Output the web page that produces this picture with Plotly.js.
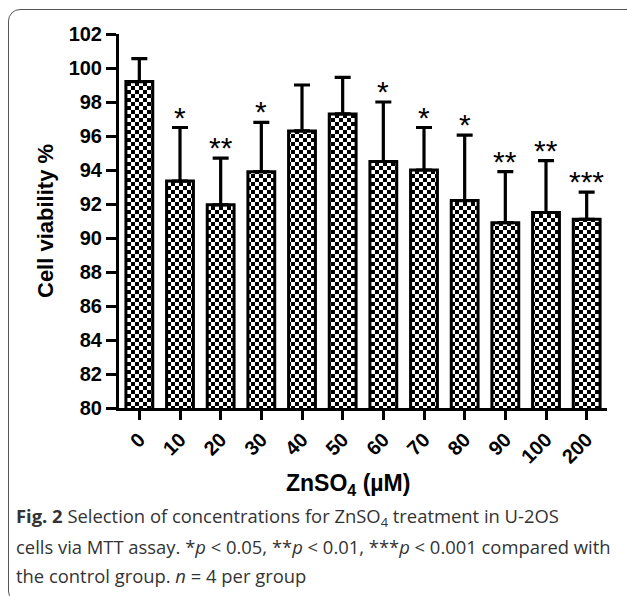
<!DOCTYPE html>
<html>
<head>
<meta charset="utf-8">
<script src="https://cdn.plot.ly/plotly-3.0.1.min.js"></script>
<style>
  html, body { margin: 0; padding: 0; background: #fff; }
  #wrap { position: relative; width: 627px; height: 596px; overflow: hidden; }
  #chart { position: absolute; left: 0; top: 0; width: 627px; height: 596px; }
  #frame { position: absolute; left: 8px; top: 9px; width: 700px; height: 592px;
           border: 1.5px solid #555; border-radius: 12px; pointer-events: none; }
</style>
</head>
<body>
<div id="wrap"><div id="chart"></div><div id="frame"></div></div>
<script>
const categories = ['0', '10', '20', '30', '40', '50', '60', '70', '80', '90', '100', '200'];
const viability = [99.2, 93.35, 91.95, 93.9, 96.3, 97.3, 94.5, 94.0, 92.2, 90.9, 91.5, 91.1];
const errorUpper = [1.35, 3.15, 2.75, 2.9, 2.7, 2.15, 3.5, 2.5, 3.85, 3.0, 3.05, 1.6];
const significance = ['', '*', '**', '*', '', '', '*', '*', '*', '**', '**', '***'];
const yTickValues = [80, 82, 84, 86, 88, 90, 92, 94, 96, 98, 100, 102];
const captionLines = [
  '<b>Fig. 2</b> Selection of concentrations for ZnSO<sub>4</sub> treatment in U-2OS',
  'cells via MTT assay. *<i>p</i> < 0.05, **<i>p</i> < 0.01, ***<i>p</i> < 0.001 compared with',
  'the control group. <i>n</i> = 4 per group'
];

const AR = 'Arial, "Liberation Sans", sans-serif';
const CAP = '"Open Sans", "Noto Sans", sans-serif';

const trace = {
  type: 'bar',
  x: categories,
  y: viability,
  marker: { color: '#ffffff', line: { color: '#000', width: 3 } },
  error_y: { type: 'data', symmetric: false, array: errorUpper, arrayminus: categories.map(() => 0),
             color: '#000', thickness: 3.2, width: 8 },
  hoverinfo: 'none'
};

const annotations = [];
categories.forEach((c, i) => {
  if (significance[i]) {
    annotations.push({
      x: i, y: viability[i] + errorUpper[i], xref: 'x', yref: 'y',
      text: significance[i], showarrow: false, yanchor: 'bottom', yshift: -8,
      font: { family: AR, size: 30, color: '#000' }
    });
  }
});
annotations.push({
  xref: 'paper', yref: 'paper', x: (348 - 119) / 488, y: (408 - 484) / 374,
  xanchor: 'center', yanchor: 'middle', showarrow: false,
  text: 'ZnSO<sub>4</sub> (µM)',
  font: { family: AR, size: 23, color: '#000', weight: 'bold' }
});
annotations.push({
  xref: 'paper', yref: 'paper', x: (45 - 119) / 488, y: 0.5,
  xanchor: 'center', yanchor: 'middle', showarrow: false, textangle: -90,
  text: 'Cell viability %',
  font: { family: AR, size: 22, color: '#000', weight: 'bold' }
});
const capY = [517, 546, 575];
captionLines.forEach((t, i) => {
  annotations.push({
    xref: 'paper', yref: 'paper', x: (14 - 119) / 488, y: (408 - capY[i]) / 374,
    xanchor: 'left', yanchor: 'middle', showarrow: false, align: 'left',
    text: t, font: { family: CAP, size: 18.4, color: '#333' }
  });
});

const layout = {
  width: 627, height: 596,
  margin: { l: 119, r: 20, t: 34, b: 188 },
  paper_bgcolor: 'rgba(0,0,0,0)', plot_bgcolor: 'rgba(0,0,0,0)',
  showlegend: false,
  bargap: 0.34,
  xaxis: {
    type: 'category', range: [-0.5, 11.5], fixedrange: true,
    showline: true, linecolor: '#000', linewidth: 3,
    ticks: 'outside', ticklen: 9, tickwidth: 3, tickcolor: '#000',
    tickangle: -45, showgrid: false, zeroline: false,
    tickfont: { family: AR, size: 20, color: '#000', weight: 'bold' }
  },
  yaxis: {
    range: [80, 102], fixedrange: true, tickmode: 'array', tickvals: yTickValues,
    showline: true, linecolor: '#000', linewidth: 3,
    ticks: 'outside', ticklen: 10, tickwidth: 3, tickcolor: '#000',
    showgrid: false, zeroline: false,
    tickfont: { family: AR, size: 20, color: '#000', weight: 'bold' }
  },
  annotations: annotations
};

Plotly.newPlot('chart', [trace], layout, { displayModeBar: false, staticPlot: true }).then(gd => {
  const NS = 'http://www.w3.org/2000/svg';
  const svg = gd.querySelector('svg.main-svg');
  let defs = svg.querySelector('defs');
  if (!defs) { defs = document.createElementNS(NS, 'defs'); svg.insertBefore(defs, svg.firstChild); }
  const pat = document.createElementNS(NS, 'pattern');
  pat.setAttribute('id', 'checker');
  pat.setAttribute('patternUnits', 'userSpaceOnUse');
  pat.setAttribute('width', '8');
  pat.setAttribute('height', '8');
  const mk = (x, y, w, h, f) => {
    const r = document.createElementNS(NS, 'rect');
    r.setAttribute('x', x); r.setAttribute('y', y);
    r.setAttribute('width', w); r.setAttribute('height', h);
    r.setAttribute('fill', f);
    pat.appendChild(r);
  };
  mk(0, 0, 8, 8, '#fff');
  mk(0, 0, 4, 4, '#000');
  mk(4, 4, 4, 4, '#000');
  defs.appendChild(pat);
  gd.querySelectorAll('.barlayer .point path').forEach(p => {
    p.style.fill = 'url(#checker)';
  });
});
</script>
</body>
</html>
